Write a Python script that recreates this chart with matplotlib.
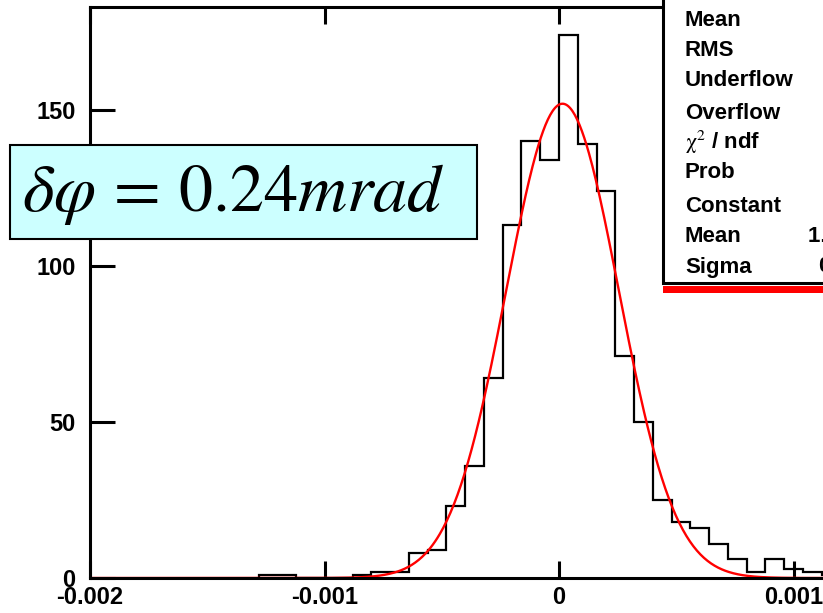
import numpy as np
import matplotlib
matplotlib.use("Agg")
import matplotlib.pyplot as plt
from matplotlib.patches import Rectangle

plt.rcParams['font.family'] = ['Liberation Sans', 'DejaVu Sans']
plt.rcParams['mathtext.fontset'] = 'stix'

# histogram of delta-phi residuals (rad), 0.00008 wide bins
bin_width = 0.00008
first_edge = -0.00128
counts = [1, 1, 0, 0, 0, 1, 2, 2, 8, 9, 23, 36, 64, 113, 140, 134,
          174, 139, 124, 71, 50, 25, 18, 16, 11, 6, 2, 6, 3, 2, 1]

# gaussian fit result
gaus_const = 152.0
gaus_mean = 1.5e-05
gaus_sigma = 0.00024

x_ticks = [-0.002, -0.001, 0.0, 0.001]
x_ticklabels = ["-0.002", "-0.001", "0", "0.001"]
y_ticks = [0, 50, 100, 150]

stat_names = ["Mean", "RMS", "Underflow", "Overflow", r"$\mathrm{\chi}^{2}$ / ndf",
              "Prob", "Constant", "Mean", "Sigma"]
fit_values = {7: "1.5e-05 \u00b1 7.1e-06", 8: "0.000240 \u00b1 0.000005"}

W, H = 823, 613
fig = plt.figure(figsize=(W / 100, H / 100), dpi=100)


def fx(px):
    return px / W


def fy(py):
    return 1 - py / H


ax = fig.add_axes([fx(90), fy(578), fx(1028) - fx(90), fy(7) - fy(578)])

edges = first_edge + bin_width * np.arange(len(counts) + 1)
ax.stairs(counts, edges, color='black', linewidth=1.6, baseline=0, zorder=1.9)

xf = np.linspace(-0.002, 0.002, 800)
ax.plot(xf, gaus_const * np.exp(-0.5 * ((xf - gaus_mean) / gaus_sigma) ** 2),
        color='#ff0000', linewidth=1.7, zorder=2)

ax.set_xlim(-0.002, 0.002)
ax.set_ylim(0, 183)
ax.set_xticks(x_ticks)
ax.set_xticklabels(x_ticklabels)
ax.set_yticks(y_ticks)
ax.minorticks_off()

for s in ax.spines.values():
    s.set_linewidth(2.2)
ax.tick_params(axis='y', direction='in', length=18, width=2.2, pad=10.5,
               labelsize=17)
ax.tick_params(axis='x', direction='in', length=12, width=2.2, pad=6,
               labelsize=17, top=True)
for lab in ax.get_xticklabels() + ax.get_yticklabels():
    lab.set_fontweight('bold')

# stats box, running off the top/right of the canvas
fig.add_artist(Rectangle((fx(663), fy(293)), fx(900) - fx(663), fy(286) - fy(293),
                         transform=fig.transFigure, facecolor='#ff0000',
                         edgecolor='none', zorder=5))
fig.add_artist(Rectangle((fx(663), fy(283)), fx(900) - fx(663), fy(-20) - fy(283),
                         transform=fig.transFigure, facecolor='white',
                         edgecolor='black', linewidth=2.2, zorder=6))
row_y = [20, 50, 80, 113, 142, 173, 207, 237, 267]
for i, (name, py) in enumerate(zip(stat_names, row_y)):
    fig.text(fx(685), fy(py), name, fontsize=16, fontweight='bold',
             va='center', ha='left', zorder=7)
    if i in fit_values:
        fig.text(fx(808 if i == 7 else 819), fy(py), fit_values[i],
                 fontsize=16, fontweight='bold', va='center', ha='left', zorder=7)

# resolution label
fig.add_artist(Rectangle((fx(10), fy(239)), fx(477) - fx(10), fy(145) - fy(239),
                         transform=fig.transFigure, facecolor='#ccffff',
                         edgecolor='black', linewidth=1.5, zorder=5))
fig.text(fx(22), fy(211), r'$\delta\varphi\,=\,0.24mrad$', fontsize=49,
         ha='left', va='baseline', zorder=6)

fig.savefig('out.png', dpi=100)
